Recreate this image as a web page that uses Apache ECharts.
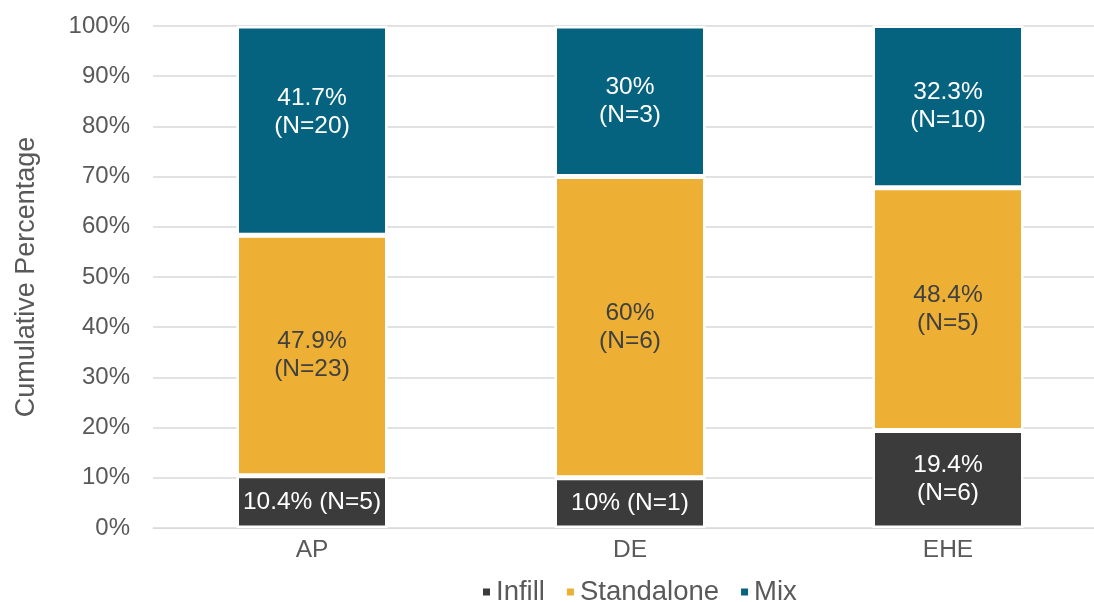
<!DOCTYPE html>
<html>
<head>
<meta charset="utf-8">
<script src="https://cdn.jsdelivr.net/npm/echarts@6/dist/echarts.min.js"></script>
<style>
  html, body { margin: 0; padding: 0; background: #ffffff; overflow: hidden; }
  #chart { width: 1108px; height: 602px; }
</style>
</head>
<body>
<div id="chart"></div>
<script>
// Share of projects by development type, per program
const categories = ['AP', 'DE', 'EHE'];
const seriesNames = ['Infill', 'Standalone', 'Mix'];
const infillPct = [10.4, 10, 19.4];
const standalonePct = [47.9, 60, 48.4];
const mixPct = [41.7, 30, 32.3];
const infillN = [5, 1, 6];
const standaloneN = [23, 6, 5];
const mixN = [20, 3, 10];
const yTicks = [0, 10, 20, 30, 40, 50, 60, 70, 80, 90, 100];

const FONT = '"Liberation Sans", Arial, sans-serif';
const colors = ['#3b3b3b', '#edb035', '#05637f'];
const labelColors = ['#ffffff', '#404040', '#ffffff'];

const pctData = [infillPct, standalonePct, mixPct];
const countData = [infillN, standaloneN, mixN];

function makeSeries(idx) {
  const pcts = pctData[idx];
  const counts = countData[idx];
  return {
    name: seriesNames[idx],
    type: 'bar',
    stack: 'total',
    barWidth: 151,
    itemStyle: { color: colors[idx], borderColor: '#ffffff', borderWidth: 2.5 },
    label: {
      show: true,
      position: 'inside',
      color: labelColors[idx],
      fontFamily: FONT,
      fontSize: 24.5,
      lineHeight: 28,
      formatter: function (p) {
        const v = pcts[p.dataIndex];
        const n = counts[p.dataIndex];
        // short segments keep the label on a single line
        return v < 15 ? v + '% (N=' + n + ')' : v + '%\n(N=' + n + ')';
      }
    },
    data: pcts.map(function (v, i) {
      const item = { value: v };
      // the AP "Mix" label sits a little above its segment centre
      if (idx === 2 && i === 0) item.label = { offset: [0, -18] };
      return item;
    })
  };
}

const chart = echarts.init(document.getElementById('chart'), null, { renderer: 'canvas' });
chart.setOption({
  backgroundColor: '#ffffff',
  animation: false,
  textStyle: { fontFamily: FONT },
  grid: { left: 153, top: 26, width: 954, height: 502, containLabel: false },
  legend: {
    top: 578,
    left: 481,
    data: seriesNames,
    icon: 'rect',
    itemWidth: 9,
    itemHeight: 9,
    itemGap: 20,
    textStyle: { fontFamily: FONT, fontSize: 27.5, color: '#595959' },
    padding: 0
  },
  xAxis: {
    type: 'category',
    data: categories,
    axisLine: { show: true, lineStyle: { color: '#d9d9d9', width: 1 } },
    axisTick: { show: false },
    axisLabel: { fontFamily: FONT, fontSize: 24.5, color: '#595959', margin: 10 }
  },
  yAxis: {
    type: 'value',
    min: yTicks[0],
    max: yTicks[yTicks.length - 1],
    interval: yTicks[1] - yTicks[0],
    name: 'Cumulative Percentage',
    nameLocation: 'middle',
    nameRotate: 90,
    nameGap: 113,
    nameTextStyle: { fontFamily: FONT, fontSize: 27, color: '#595959' },
    axisLine: { show: false },
    axisTick: { show: false },
    axisLabel: { fontFamily: FONT, fontSize: 24, color: '#595959', margin: 23, formatter: '{value}%' },
    splitLine: { lineStyle: { color: '#d9d9d9', width: 1.5 } }
  },
  series: [makeSeries(0), makeSeries(1), makeSeries(2)]
});
</script>
</body>
</html>
